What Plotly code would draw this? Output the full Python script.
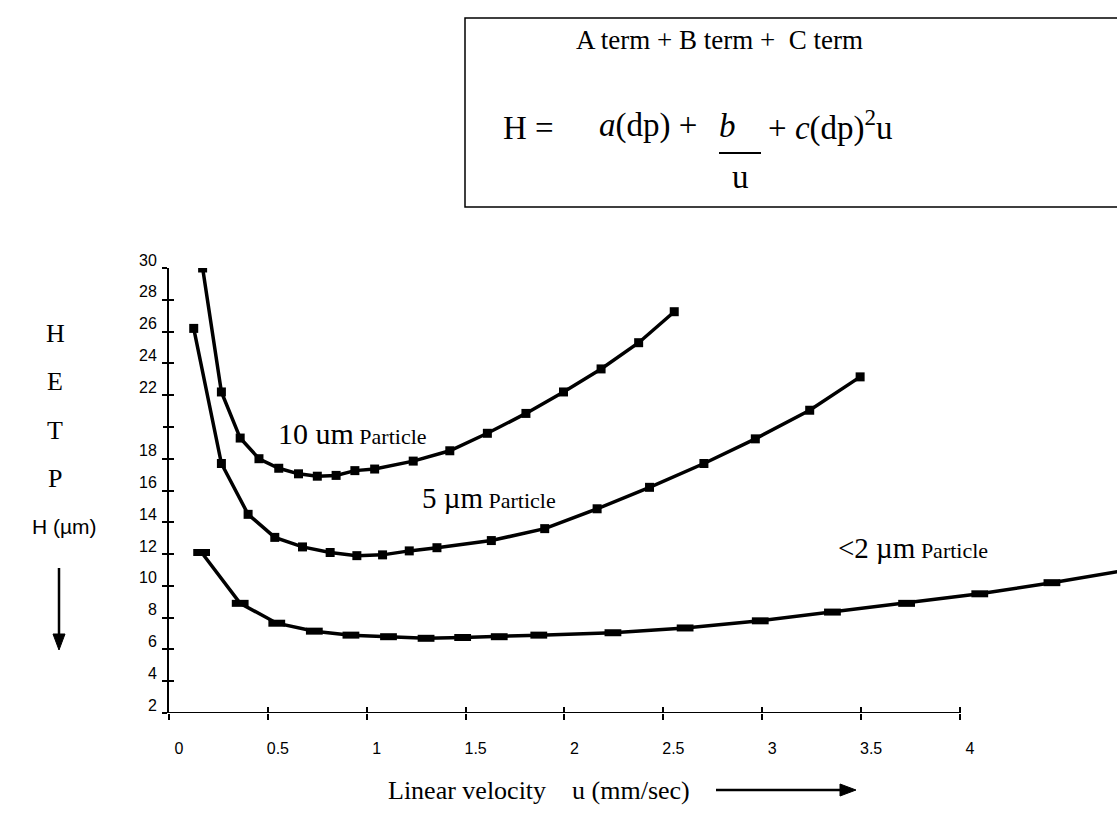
import plotly.graph_objects as go

# ---- data ----
u_10um = [0.17, 0.265, 0.36, 0.455, 0.555, 0.655, 0.75, 0.845, 0.94, 1.04, 1.235, 1.42,
          1.61, 1.805, 1.995, 2.185, 2.375, 2.555]
h_10um = [30.0, 22.2, 19.3, 18.0, 17.4, 17.05, 16.9, 16.95, 17.25, 17.35, 17.85, 18.5,
          19.6, 20.85, 22.2, 23.65, 25.3, 27.25]
u_5um = [0.125, 0.265, 0.4, 0.535, 0.675, 0.815, 0.95, 1.08, 1.215, 1.355, 1.63, 1.9,
         2.165, 2.43, 2.705, 2.965, 3.24, 3.495]
h_5um = [26.2, 17.7, 14.5, 13.05, 12.45, 12.1, 11.9, 11.95, 12.2, 12.4, 12.85, 13.6,
         14.85, 16.2, 17.7, 19.25, 21.05, 23.15]
u_2um = [0.165, 0.36, 0.545, 0.735, 0.92, 1.11, 1.3, 1.485, 1.67, 1.87, 2.245, 2.61,
         2.99, 3.355, 3.73, 4.1, 4.465, 4.85]
h_2um = [12.1, 8.9, 7.65, 7.15, 6.9, 6.8, 6.7, 6.75, 6.8, 6.9, 7.05, 7.35,
         7.8, 8.35, 8.9, 9.5, 10.2, 11.0]

x_tick_vals = [0, 0.5, 1, 1.5, 2, 2.5, 3, 3.5, 4]
x_tick_text = ["0", "0.5", "1", "1.5", "2", "2.5", "3", "3.5", "4"]
y_tick_vals = [2, 4, 6, 8, 10, 12, 14, 16, 18, 20, 22, 24, 26, 28, 30]
y_label_vals = [2, 4, 6, 8, 10, 12, 14, 16, 18, 22, 24, 26, 28, 30]
y_label_text = ["2", "4", "6", "8", "10", "12", "14", "16", "18", "22", "24", "26", "28", "30"]

# ---- layout geometry ----
W, H = 1117, 821
L, R, T, B = 169, 0, 268, 108
PW, PH = W - L - R, H - T - B
X_MAX = 4.794
Y_MIN, Y_MAX = 2, 30

SERIF = "Liberation Serif, Times New Roman, serif"
SANS = "Liberation Sans, Arial, sans-serif"


def px(xp):
    return (xp - L) / PW


def py(yp):
    return (H - B - yp) / PH


fig = go.Figure()
line_style = dict(color="black", width=3.5)
fig.add_trace(go.Scatter(x=u_10um, y=h_10um, mode="lines+markers", line=line_style,
                         marker=dict(symbol="square", size=9, color="black"),
                         name="10 um", showlegend=False))
fig.add_trace(go.Scatter(x=u_5um, y=h_5um, mode="lines+markers", line=line_style,
                         marker=dict(symbol="square", size=9, color="black"),
                         name="5 um", showlegend=False))
fig.add_trace(go.Scatter(x=u_2um, y=h_2um, mode="lines+markers", line=line_style,
                         marker=dict(symbol="line-ew", size=12,
                                     line=dict(width=7, color="black")),
                         name="<2 um", showlegend=False))
# invisible traces so the overlay axes (other halves of the crossing ticks) are drawn
fig.add_trace(go.Scatter(x=[None], y=[None], xaxis="x2", yaxis="y2", showlegend=False,
                         hoverinfo="skip"))
fig.add_trace(go.Scatter(x=[None], y=[None], xaxis="x2", yaxis="y3", showlegend=False,
                         hoverinfo="skip"))

tickfont = dict(family=SANS, size=16, color="black")
fig.update_layout(
    width=W, height=H,
    margin=dict(l=L, r=R, t=T, b=B, pad=0),
    paper_bgcolor="white", plot_bgcolor="white",
    showlegend=False,
    xaxis=dict(range=[0, X_MAX], tickvals=x_tick_vals, ticktext=x_tick_text,
               ticks="outside", ticklen=6, tickwidth=1.5, tickcolor="black",
               showgrid=False, zeroline=False, showline=False,
               tickfont=tickfont, ticklabelstandoff=15, ticklabelshift=10),
    yaxis=dict(range=[Y_MIN, Y_MAX], tickvals=y_label_vals, ticktext=y_label_text,
               ticks="outside", ticklen=5, tickwidth=1.5, tickcolor="black",
               showgrid=False, zeroline=False, showline=True, linecolor="black",
               linewidth=2, tickfont=tickfont, ticklabelstandoff=2, ticklabelshift=-8),
    xaxis2=dict(range=[0, X_MAX], overlaying="x", anchor="y", side="bottom",
                tickvals=x_tick_vals, ticks="inside", ticklen=6, tickwidth=1.5,
                tickcolor="black", showticklabels=False, showgrid=False,
                zeroline=False, showline=False),
    yaxis2=dict(range=[Y_MIN, Y_MAX], overlaying="y", anchor="x", side="left",
                tickvals=y_tick_vals, ticks="inside", ticklen=5, tickwidth=1.5,
                tickcolor="black", showticklabels=False, showgrid=False,
                zeroline=False, showline=False),
    yaxis3=dict(range=[Y_MIN, Y_MAX], overlaying="y", anchor="x", side="left",
                tickvals=[20], ticks="outside", ticklen=5, tickwidth=1.5,
                tickcolor="black", showticklabels=False, showgrid=False,
                zeroline=False, showline=False),
)

shapes = []
# x axis line only from 0 to 4
shapes.append(dict(type="line", xref="x", yref="y", x0=0, x1=4, y0=Y_MIN, y1=Y_MIN,
                   line=dict(color="black", width=2)))
# equation box
shapes.append(dict(type="rect", xref="paper", yref="paper", x0=px(465), x1=px(1130),
                   y0=py(207), y1=py(18), line=dict(color="black", width=1.5),
                   fillcolor="rgba(0,0,0,0)"))
# fraction bar under b
shapes.append(dict(type="line", xref="paper", yref="paper", x0=px(719), x1=px(761),
                   y0=py(153), y1=py(153), line=dict(color="black", width=2)))
# arrows (drawn as line + head)
shapes.append(dict(type="line", xref="paper", yref="paper", x0=px(59), x1=px(59),
                   y0=py(568), y1=py(636), line=dict(color="black", width=2.5)))
shapes.append(dict(type="path", xref="paper", yref="paper",
                   path=f"M {px(53)} {py(634)} L {px(65)} {py(634)} L {px(59)} {py(650)} Z",
                   fillcolor="black", line=dict(color="black", width=1)))
shapes.append(dict(type="line", xref="paper", yref="paper", x0=px(716), x1=px(842),
                   y0=py(790), y1=py(790), line=dict(color="black", width=2.5)))
shapes.append(dict(type="path", xref="paper", yref="paper",
                   path=f"M {px(840)} {py(784)} L {px(840)} {py(796)} L {px(856)} {py(790)} Z",
                   fillcolor="black", line=dict(color="black", width=1)))
fig.update_layout(shapes=shapes)

ann = []


def text(x, y, s, size, family=SERIF, xanchor="center"):
    ann.append(dict(x=px(x), y=py(y), xref="paper", yref="paper", text=s,
                    showarrow=False, xanchor=xanchor, yanchor="middle",
                    font=dict(family=family, size=size, color="black")))


text(719, 40, "A term + B term +&nbsp; C term", 27)
text(528, 128, "H =", 33)
text(597, 126, "<i>a</i>(dp) +&nbsp;", 33, xanchor="left")
text(727, 126, "<i>b</i>", 33)
text(766, 126, "+ <i>c</i>(dp)<sup>2</sup>u", 33, xanchor="left")
text(740, 177, "u", 33)

text(276, 433, "10 um<span style='font-size:22px'> Particle</span>", 30, xanchor="left")
text(420, 498, "5 µm<span style='font-size:22px'> Particle</span>", 29, xanchor="left")
text(836, 548, "&lt;2 µm<span style='font-size:22px'> Particle</span>", 29, xanchor="left")

for letter, yy in zip(["H", "E", "T", "P"], [333, 381, 430, 478]):
    text(55, yy, letter, 26)
text(64, 526, "H (µm)", 21, family=SANS)

text(386, 790, "Linear velocity&nbsp;&nbsp;&nbsp; u (mm/sec)", 26, xanchor="left")

fig.update_layout(annotations=ann)

fig.write_html("out.html")
